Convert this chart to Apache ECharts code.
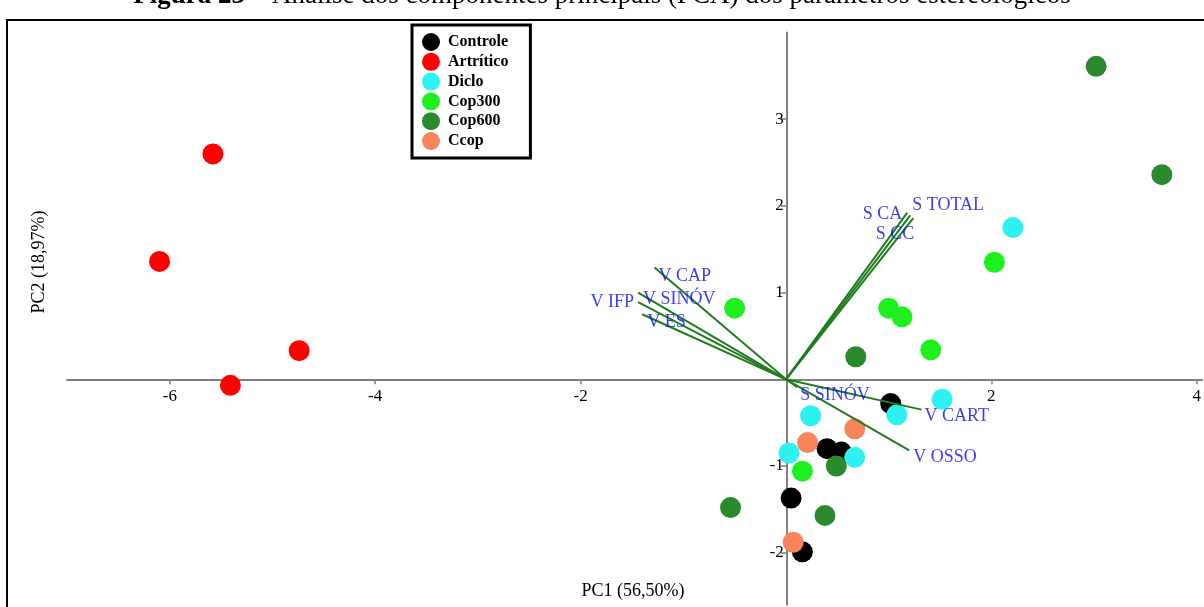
<!DOCTYPE html>
<html><head><meta charset="utf-8">
<script src="https://cdn.jsdelivr.net/npm/echarts@6/dist/echarts.min.js"></script>
<style>html,body{margin:0;padding:0;background:#fff;overflow:hidden}#c{width:1204px;height:607px}</style>
</head><body><div id="c"></div>
<script>
// ---- data ----
const categories = ['Controle', 'Artrítico', 'Diclo', 'Cop300', 'Cop600', 'Ccop'];
const controle = [[1.02, -0.28], [0.40, -0.80], [0.54, -0.84], [0.05, -1.37], [0.16, -1.99]];
const artritico = [[-5.58, 2.60], [-6.10, 1.36], [-4.74, 0.33], [-5.41, -0.07]];
const diclo = [[2.21, 1.75], [1.52, -0.23], [1.08, -0.41], [0.24, -0.42], [0.03, -0.85], [0.67, -0.90]];
const cop300 = [[2.03, 1.35], [1.00, 0.82], [1.13, 0.72], [1.41, 0.34], [-0.50, 0.82], [0.16, -1.06]];
const cop600 = [[3.02, 3.61], [3.66, 2.36], [0.68, 0.26], [0.49, -1.00], [0.38, -1.57], [-0.54, -1.48]];
const ccop = [[0.67, -0.57], [0.21, -0.73], [0.07, -1.88]];
const groupValues = [controle, artritico, diclo, cop300, cop600, ccop];

const vectorNames = ['S CA', 'S TOTAL', 'S CC', 'V CAP', 'V SINÓV', 'V IFP', 'V ES', 'S SINÓV', 'V CART', 'V OSSO'];
const vectorEnds = [[1.18, 1.92], [1.21, 1.89], [1.24, 1.86], [-1.28, 1.29], [-1.44, 1.00], [-1.44, 0.89], [-1.40, 0.75], [0.11, -0.09], [1.32, -0.35], [1.20, -0.82]];

const xTicks = [-6, -4, -2, 2, 4];
const yTicks = [-2, -1, 1, 2, 3];

// ---- style ----
const groupColors = ['#000000', '#ff0000', '#2ef2f2', '#1ef01e', '#2b8a2b', '#f7845a'];
// label placement relative to vector end: [dx, dy, align]
const labelLayout = [[-5, 1, 'right'], [2, -10, 'left'], [1, 16, 'right'], [4, 9, 'left'], [5, 7, 'left'],
  [-4, 0, 'right'], [5, 8, 'left'], [3, 8, 'left'], [3, 7, 'left'], [4, 7, 'left']];

const serif = '"Liberation Serif", "DejaVu Serif", serif';
const chart = echarts.init(document.getElementById('c'), null, {renderer: 'canvas'});

const X_MIN = -7, X_MAX = 4.05, Y_MIN = -2.6, Y_MAX = 4;
const G_LEFT = 67.1, G_TOP = 32.5, G_RIGHT = 0.9, G_BOTTOM = 2.3;
const gW = 1204 - G_LEFT - G_RIGHT, gH = 607 - G_TOP - G_BOTTOM;
// shift the axes so they cross at the origin (labels follow the axis lines)
const yAxisOffset = -((0 - X_MIN) / (X_MAX - X_MIN)) * gW;
const xAxisOffset = -((0 - Y_MIN) / (Y_MAX - Y_MIN)) * gH;

const series = [];
categories.forEach((name, i) => {
  series.push({
    name, type: 'scatter', data: groupValues[i], symbol: 'circle', symbolSize: 21,
    itemStyle: {color: groupColors[i], opacity: 1}, z: 2
  });
});
vectorNames.forEach((n, i) => {
  series.push({
    name: 'vec_' + n, type: 'line', data: [[0, 0], vectorEnds[i]], showSymbol: false, symbol: 'none',
    lineStyle: {color: '#1f7d1f', width: 2}, silent: true, z: 3
  });
});
series.push({
  name: 'vecLabels', type: 'scatter', symbolSize: 0, silent: true, z: 4,
  data: vectorNames.map((n, i) => ({
    value: vectorEnds[i], name: n,
    label: {show: true, position: 'inside', formatter: n, align: labelLayout[i][2], verticalAlign: 'middle',
      offset: [labelLayout[i][0], labelLayout[i][1]], color: '#0a0af0', fontFamily: serif, fontSize: 18}
  }))
});

chart.setOption({
  animation: false,
  backgroundColor: '#fff',
  grid: {left: G_LEFT, top: G_TOP, right: G_RIGHT, bottom: G_BOTTOM, containLabel: false},
  legend: {
    data: categories, orient: 'vertical', left: 412, top: 25, icon: 'circle',
    itemWidth: 18, itemHeight: 18, itemGap: 1.8, padding: [8, 22, 8, 10],
    borderColor: '#000', borderWidth: 3, backgroundColor: '#fff',
    textStyle: {fontFamily: serif, fontWeight: 'bold', fontSize: 16, color: '#000', padding: [0, 0, 0, 3]},
    selectedMode: false
  },
  xAxis: {
    type: 'value', min: X_MIN, max: X_MAX, splitLine: {show: false}, position: 'bottom', offset: xAxisOffset,
    axisLine: {onZero: false, lineStyle: {color: '#808080', width: 2}},
    axisTick: {customValues: xTicks, length: 5, lineStyle: {color: '#808080', width: 1.5}},
    axisLabel: {customValues: xTicks, margin: 9, color: '#000', fontFamily: serif, fontSize: 17}
  },
  yAxis: {
    type: 'value', min: Y_MIN, max: Y_MAX, splitLine: {show: false}, position: 'left', offset: yAxisOffset,
    axisLine: {onZero: false, lineStyle: {color: '#808080', width: 2}},
    axisTick: {customValues: yTicks, length: 6, lineStyle: {color: '#808080', width: 1.5}},
    axisLabel: {customValues: yTicks, margin: 3, color: '#000', fontFamily: serif, fontSize: 17}
  },
  graphic: [
    {type: 'rect', shape: {x: 7, y: 20, width: 1400, height: 800}, style: {fill: null, stroke: '#000', lineWidth: 2}, z: 0, silent: true},
    {type: 'text', x: 602, y: -4, z: 10, silent: true, style: {
      text: '{b|Figura 23} – Análise dos componentes principais (PCA) dos parâmetros estereológicos',
      fontFamily: serif, fontSize: 27, fill: '#000', align: 'center', verticalAlign: 'middle',
      rich: {b: {fontWeight: 'bold', fontFamily: serif, fontSize: 27, fill: '#000'}}
    }},
    {type: 'text', x: 633, y: 591, silent: true, style: {text: 'PC1 (56,50%)', fontFamily: serif, fontSize: 18, fill: '#000', align: 'center', verticalAlign: 'middle'}},
    {type: 'text', x: 39, y: 262, rotation: Math.PI / 2, silent: true, style: {text: 'PC2 (18,97%)', fontFamily: serif, fontSize: 18, fill: '#000', align: 'center', verticalAlign: 'middle'}}
  ],
  series
});
</script></body></html>
